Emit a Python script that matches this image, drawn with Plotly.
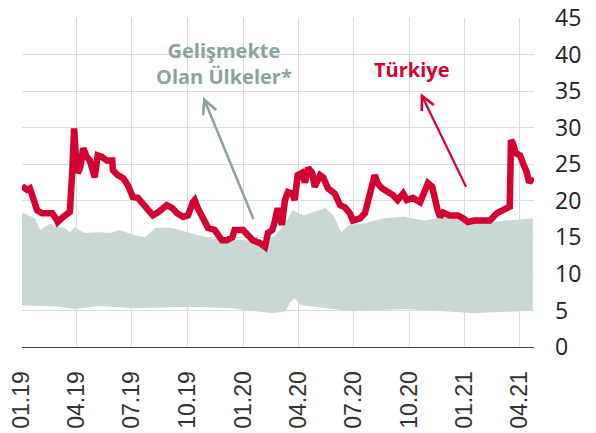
import plotly.graph_objects as go

# Türkiye volatility
tr_dates = ["2019-01-01","2019-01-09","2019-01-14","2019-01-19","2019-01-26","2019-02-03","2019-02-20",
    "2019-02-28","2019-03-01","2019-03-10","2019-03-18","2019-03-21","2019-03-25","2019-03-28","2019-03-31",
    "2019-04-03","2019-04-07","2019-04-12","2019-04-18","2019-04-23","2019-05-01","2019-05-06","2019-05-13",
    "2019-05-21","2019-05-30","2019-05-31","2019-06-08","2019-06-17","2019-06-25","2019-07-03","2019-07-11",
    "2019-07-20","2019-07-26","2019-08-05","2019-08-13","2019-08-28","2019-09-06","2019-09-14","2019-09-24",
    "2019-10-02","2019-10-10","2019-10-13","2019-10-18","2019-10-27","2019-11-04","2019-11-15","2019-11-27",
    "2019-12-05","2019-12-14","2019-12-18","2020-01-01","2020-01-09","2020-01-17","2020-01-29","2020-02-06",
    "2020-02-11","2020-02-18","2020-02-22","2020-02-27","2020-03-05","2020-03-10","2020-03-15","2020-03-22",
    "2020-03-26","2020-03-31","2020-04-07","2020-04-12","2020-04-17","2020-04-24","2020-04-28","2020-05-07",
    "2020-05-12","2020-05-20","2020-05-31","2020-06-09","2020-06-17","2020-06-25","2020-06-30","2020-07-12",
    "2020-07-20","2020-07-28","2020-08-05","2020-08-10","2020-08-17","2020-08-27","2020-09-04","2020-09-12",
    "2020-09-21","2020-09-27","2020-10-07","2020-10-19","2020-10-24","2020-11-01","2020-11-08","2020-11-12",
    "2020-11-17","2020-11-21","2020-11-26","2020-12-07","2020-12-20","2020-12-29","2021-01-06","2021-01-17",
    "2021-01-29","2021-02-11","2021-02-23","2021-03-05","2021-03-13","2021-03-16","2021-03-18","2021-03-21",
    "2021-03-26","2021-04-02","2021-04-07","2021-04-13","2021-04-17","2021-04-23"]
tr_values = [22.0,21.5,21.7,20.4,18.7,18.3,18.3,
    17.3,17.1,17.8,18.3,18.5,24.0,29.9,26.0,
    23.8,24.5,27.2,26.0,25.5,23.2,26.2,26.0,
    25.5,25.5,24.2,23.5,23.1,22.1,20.5,20.4,
    19.5,19.0,18.0,18.4,19.4,19.0,18.3,17.8,
    18.0,19.8,20.1,19.0,17.3,16.3,16.0,14.6,
    14.6,15.0,16.0,16.0,15.3,14.6,14.2,13.7,
    15.6,16.0,17.1,19.0,16.7,20.1,21.2,21.0,
    20.1,23.5,23.8,22.5,24.5,23.8,21.9,23.5,
    23.2,21.7,21.0,19.4,19.1,18.3,17.3,17.6,
    18.3,21.2,23.5,22.4,21.7,21.2,20.8,20.1,
    21.0,20.1,20.4,19.8,21.0,22.4,21.9,20.1,
    18.7,17.8,18.4,18.0,18.0,17.6,17.1,17.3,
    17.3,17.3,18.3,18.7,19.0,19.2,28.3,27.9,
    26.5,26.2,25.1,23.9,22.5,23.2]

# Developing countries range: upper edge
up_dates = ["2019-01-01","2019-01-14","2019-01-22","2019-01-31","2019-02-16","2019-03-01","2019-03-12",
    "2019-03-21","2019-03-29","2019-04-14","2019-05-09","2019-05-26","2019-06-11","2019-07-06","2019-07-23",
    "2019-08-09","2019-09-03","2019-10-06","2019-10-31","2019-11-26","2019-12-30","2020-01-24","2020-02-18",
    "2020-03-06","2020-03-23","2020-04-09","2020-05-04","2020-05-16","2020-05-29","2020-06-11","2020-06-23",
    "2020-07-18","2020-08-20","2020-09-22","2020-10-26","2020-11-28","2021-01-16","2021-03-07","2021-04-23"]
up_values = [18.4,17.9,17.6,16.0,16.9,16.4,16.3,
    15.7,16.4,15.6,15.7,15.6,16.0,15.3,15.0,
    16.3,16.3,15.6,15.0,14.6,14.7,14.3,14.9,
    16.4,18.7,18.0,18.7,19.0,18.0,15.7,16.7,
    16.9,17.6,17.8,17.3,17.8,16.9,17.3,17.6]

# Developing countries range: lower edge
lo_dates = ["2019-01-01","2019-03-04","2019-03-29","2019-05-09","2019-07-06","2019-10-06","2019-12-13",
    "2020-02-18","2020-03-11","2020-03-18","2020-03-26","2020-04-05","2020-04-25","2020-06-30","2020-09-22",
    "2020-11-28","2021-01-16","2021-03-07","2021-04-23"]
lo_values = [5.7,5.5,5.2,5.6,5.3,5.5,5.3,
    4.6,4.9,6.1,6.7,5.7,5.5,4.9,5.2,
    4.9,4.6,4.8,5.0]

tick_vals = ["2019-01-01","2019-04-01","2019-07-01","2019-10-01","2020-01-01","2020-04-01",
             "2020-07-01","2020-10-01","2021-01-01","2021-04-01"]
tick_text = ["01.19","04.19","07.19","10.19","01.20","04.20","07.20","10.20","01.21","04.21"]

RED = "#d50032"
GREY_TXT = "#8aa49c"
BAND = "#c9d8d4"

fig = go.Figure()
fig.add_trace(go.Scatter(
    x=up_dates + lo_dates[::-1], y=up_values + lo_values[::-1],
    fill="toself", fillcolor=BAND, line=dict(width=0, color=BAND),
    mode="lines", hoverinfo="skip", showlegend=False))
fig.add_trace(go.Scatter(
    x=tr_dates, y=tr_values, mode="lines",
    line=dict(color=RED, width=6.5), showlegend=False))

fig.update_layout(
    width=596, height=433,
    margin=dict(l=22, r=62, t=18, b=86),
    plot_bgcolor="white", paper_bgcolor="white",
    showlegend=False,
    xaxis=dict(
        type="date", range=["2019-01-01", "2021-04-25"], automargin=False,
        tickvals=tick_vals, ticktext=tick_text, tickangle=-90,
        showgrid=True, gridcolor="#dcdcdc", gridwidth=1,
        showline=True, linecolor="#444444", linewidth=1,
        ticks="", ticklabelstandoff=14,
        tickfont=dict(family="Liberation Sans, Arial", size=23, color="#333333"),
        zeroline=False),
    yaxis=dict(
        range=[0, 45], dtick=5, side="right", automargin=False,
        showgrid=True, gridcolor="#dcdcdc", gridwidth=1,
        ticks="", ticklabelstandoff=20, zeroline=False, showline=False,
        tickfont=dict(family="Open Sans", size=23, color="#222222")),
)

fig.add_annotation(x="2019-11-30", y=38.8, xref="x", yref="y",
    text="<b>Gelişmekte<br>Olan Ülkeler*</b>", showarrow=False,
    font=dict(family="Open Sans", size=20, color=GREY_TXT), align="center")
fig.add_annotation(x="2020-10-05", y=38.0, xref="x", yref="y",
    text="<b>Türkiye</b>", showarrow=False,
    font=dict(family="Open Sans", size=20, color=RED), align="center")

fig.add_annotation(x="2019-10-27", y=34.2, xref="x", yref="y",
    ax="2020-01-19", ay=17.3, axref="x", ayref="y", text="",
    showarrow=True, arrowhead=5, arrowwidth=2.5, arrowsize=1.1, arrowcolor=GREY_TXT)
fig.add_annotation(x="2020-10-20", y=34.7, xref="x", yref="y",
    ax="2021-01-04", ay=21.7, axref="x", ayref="y", text="",
    showarrow=True, arrowhead=5, arrowwidth=2.2, arrowsize=1.2, arrowcolor=RED)

fig.write_html("out.html", config={"displayModeBar": False},
    post_script="document.body.style.margin='0';document.body.style.overflow='hidden';")
